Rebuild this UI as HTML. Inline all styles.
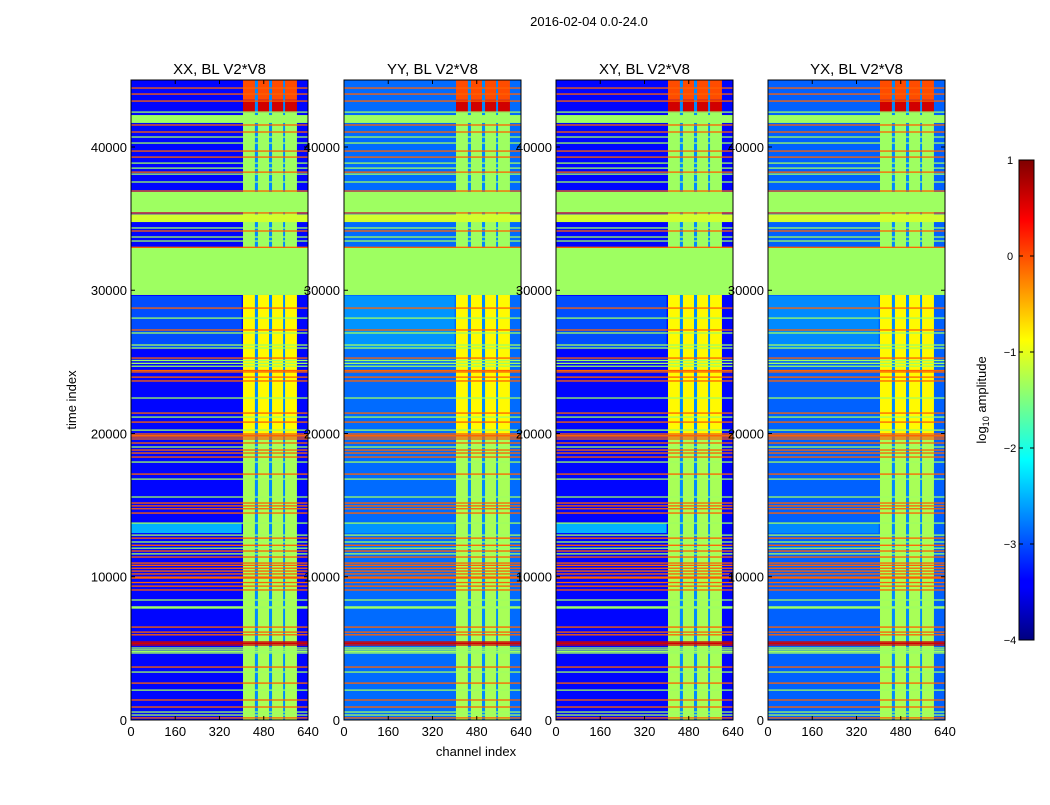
<!DOCTYPE html>
<html><head><meta charset="utf-8"><style>
body{margin:0;background:#fff;}
svg text{font-family:"Liberation Sans",sans-serif;}
</style></head><body>
<svg id="fig" width="1050" height="800" viewBox="0 0 1050 800">
<defs>
<linearGradient id="jet" x1="0" y1="1" x2="0" y2="0">
<stop offset="0" stop-color="#00007f"/><stop offset="0.11" stop-color="#0000ff"/><stop offset="0.125" stop-color="#0000ff"/>
<stop offset="0.34" stop-color="#00ddff"/><stop offset="0.375" stop-color="#00ffff"/><stop offset="0.5" stop-color="#7fff7f"/>
<stop offset="0.625" stop-color="#ffff00"/><stop offset="0.66" stop-color="#ffdd00"/><stop offset="0.875" stop-color="#ff0000"/><stop offset="1" stop-color="#7f0000"/>
</linearGradient>
</defs>
<text x="589" y="26" font-size="13" text-anchor="middle">2016-02-04 0.0-24.0</text>
<g id="panels"></g>
<g>
<rect x="1019" y="160" width="15" height="480" fill="url(#jet)" stroke="#000" stroke-width="1"/>
<g id="cbticks"></g>
<text transform="translate(986,400) rotate(-90)" font-size="13" text-anchor="middle">log<tspan font-size="9" dy="3">10</tspan><tspan dy="-3"> amplitude</tspan></text>
</g>
<text transform="translate(76,400) rotate(-90)" font-size="13" text-anchor="middle">time index</text>
<text x="476" y="756" font-size="13" text-anchor="middle">channel index</text>
</svg>
<script>
const panelNames = ["XX, BL V2*V8","YY, BL V2*V8","XY, BL V2*V8","YX, BL V2*V8"];
const leftLevel = [-3.35,-2.85,-3.35,-2.9];
const leftBands = [[13050,13750,-2.5],[26000,29600,-3.0]];
const rightSegs = [[0,20000,-1.3],[20000,29670,-0.85],[32950,42400,-1.35],[42400,43300,0.6],[43300,44700,0.0]];
const stripes = [[448,459],[499,510],[550,557]];
const greenBlocks = [[29670,32950,-1.35],[35460,36860,-1.35],[41680,42230,-1.35],[34760,35300,-1.1]];
const hLines = [[44120,-0.1],[43700,-0.1],[43210,-0.1],[42440,-1.35],[41540,-0.1],[41050,-0.1],[40700,-1.35],[40280,-1.35],[39720,-0.1],[39300,-0.1],[38880,-1.35],[38530,-1.35],[38250,-0.1],[38110,-1.35],[37560,-1.35],[36930,-0.1],[35400,-0.1],[34350,-1.35],[34140,-0.1],[33720,-1.35],[33440,-1.35],[33000,-0.1],[28760,-0.1],[28060,-1.35],[27230,-0.1],[27020,-1.35],[26180,-1.35],[25970,-1.35],[25270,-0.1],[25100,-1.35],[24900,-1.35],[24700,-1.35],[24400,-0.1],[24300,-0.1],[23940,-0.1],[23670,-0.1],[22480,-1.35],[21430,-0.1],[21150,-1.35],[20800,-0.1],[20240,-1.35],[19970,-0.1],[19860,-0.1],[19760,-0.1],[19620,-0.1],[19340,-0.1],[19060,-1.35],[18850,-0.1],[18640,-0.1],[18360,-0.1],[18010,-1.35],[17170,-0.1],[16820,-1.35],[15570,-1.35],[15150,-0.1],[14950,-0.1],[14750,-0.1],[14450,-0.1],[13750,-1.35],[12910,-1.35],[12700,-0.1],[12430,-1.35],[12200,-0.1],[12000,-1.35],[11800,-0.1],[11600,-1.35],[11380,-0.1],[10960,-0.1],[10800,-0.1],[10600,-0.1],[10400,-0.1],[10200,-0.1],[9980,-0.1],[9910,-0.1],[9600,-0.1],[9350,-0.1],[9080,-0.1],[8380,-1.35],[7900,-1.35],[7820,-1.35],[6490,-0.1],[6140,-0.1],[5950,-0.1],[5450,0.6],[5350,0.6],[5240,0.6],[5030,-1.35],[4900,-1.35],[4780,-1.35],[4680,-1.35],[3700,-0.1],[3350,-1.35],[2580,-0.1],[2090,-1.35],[1400,-0.1],[910,-0.1],[560,-1.35],[350,-1.35],[150,-0.1]];
const xTicks = [0,160,320,480,640];
const yTicks = [0,10000,20000,30000,40000];
const cbTicks = [1,0,-1,-2,-3,-4];
const cbLabels = ["1","0","\u22121","\u22122","\u22123","\u22124"];

const panelX=[131,344,556,768], PW=177, Y0=720, TMAX=44677, CMAX=640;
const yS=t=>Y0-t*(640/TMAX);
function jet(v){const x=Math.max(0,Math.min(1,(v+4)/5));const c=a=>Math.round(255*Math.max(0,Math.min(1,1.5-Math.abs(4*x-a))));return `rgb(${c(3)},${c(2)},${c(1)})`;}
const NS="http://www.w3.org/2000/svg";
function mk(tag,attrs,parent){const e=document.createElementNS(NS,tag);for(const k in attrs)e.setAttribute(k,attrs[k]);parent.appendChild(e);return e;}
const root=document.getElementById('panels');
panelNames.forEach((nm,p)=>{
  const x0=panelX[p]; const xS=c=>x0+c*PW/CMAX;
  const g=mk('g',{},root);
  
  
  const bg=mk('rect',{x:x0,y:80,width:PW,height:640,fill:jet(leftLevel[p])},g);
  
  
  leftBands.forEach(b=>{const lv=p%2?leftLevel[p]+0.2:b[2];const r=mk('rect',{x:x0,y:yS(b[1]),width:xS(400)-x0,height:yS(b[0])-yS(b[1]),fill:jet(lv)},g);
    
    });
  rightSegs.forEach(s=>{const r=mk('rect',{x:xS(405),y:yS(s[1]),width:xS(600)-xS(405),height:yS(s[0])-yS(s[1]),fill:jet(s[2])},g);
    
    });
  stripes.forEach(s=>{const r=mk('rect',{x:xS(s[0]),y:yS(44700),width:xS(s[1])-xS(s[0]),height:yS(0)-yS(44700),fill:jet(-2.7)},g);
    
    });
  greenBlocks.forEach(b=>{const r=mk('rect',{x:x0,y:yS(b[1]),width:PW,height:yS(b[0])-yS(b[1]),fill:jet(b[2])},g);
    
    });
  hLines.forEach(l=>{const r=mk('rect',{x:x0,y:yS(l[0])-0.6,width:PW,height:1.3,fill:jet(l[1])},g);
    
    });
  const fr=mk('rect',{x:x0,y:80,width:PW,height:640,fill:'none',stroke:'#000','stroke-width':1},g);
  
  
  const t=mk('text',{x:x0+PW/2,y:74,'font-size':15,'text-anchor':'middle'},g);t.textContent=nm;
  
  
  xTicks.forEach(v=>{const x=xS(v);mk('line',{x1:x,x2:x,y1:720,y2:716,stroke:'#000'},g);mk('line',{x1:x,x2:x,y1:80,y2:84,stroke:'#000'},g);
    const tt=mk('text',{x:x,y:736,'font-size':13,'text-anchor':'middle'},g);tt.textContent=v;
    
    });
  yTicks.forEach(v=>{const y=yS(v);mk('line',{x1:x0,x2:x0+4,y1:y,y2:y,stroke:'#000'},g);mk('line',{x1:x0+PW,x2:x0+PW-4,y1:y,y2:y,stroke:'#000'},g);
    const tt=mk('text',{x:x0-4,y:y+5,'font-size':13,'text-anchor':'end'},g);tt.textContent=v;
    
    });
});
const cb=document.getElementById('cbticks');
cbTicks.forEach((v,i)=>{const y=640-(v+4)*96;mk('line',{x1:1019,x2:1023,y1:y,y2:y,stroke:'#000'},cb);mk('line',{x1:1034,x2:1030,y1:y,y2:y,stroke:'#000'},cb);
  const tt=mk('text',{x:1010,y:y+4,'font-size':11,'text-anchor':'middle'},cb);tt.textContent=cbLabels[i];
  
  });
</script>
</body></html>
